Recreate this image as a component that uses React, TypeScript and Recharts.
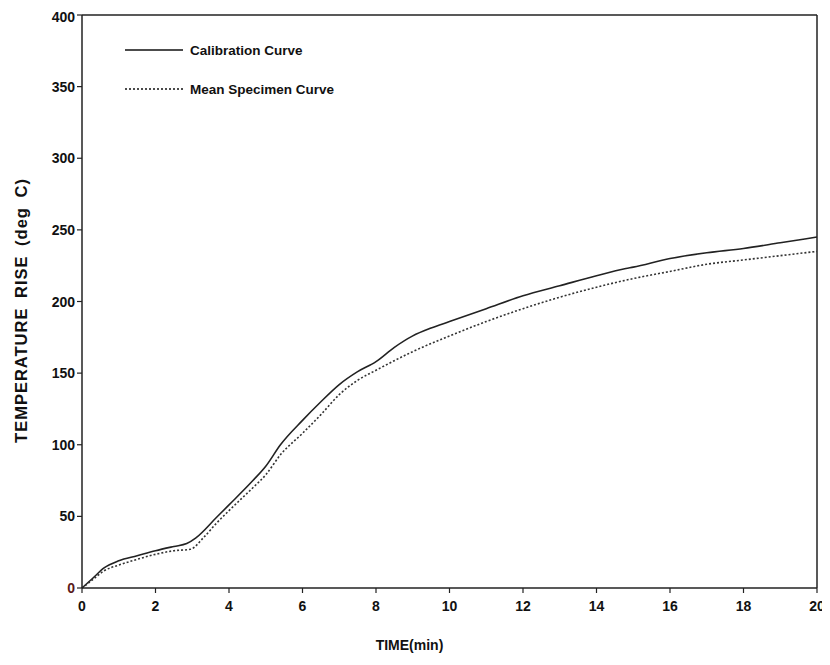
import React from "react";
import { LineChart, Line, XAxis, YAxis, ReferenceLine } from "recharts";

const calTime = [0, 0.3, 0.6, 1, 1.5, 2, 2.5, 2.85, 3.1, 3.65, 4, 4.65, 5, 5.4, 6, 6.5, 7, 7.5, 8, 8.5, 9, 9.5, 10, 11, 12, 13, 14, 14.8, 15, 16, 17, 18, 19, 20];
const calTemp = [0, 7, 14, 19, 22.5, 26, 29, 31, 35, 49, 58, 75, 85, 100, 117, 130, 142, 151, 158, 168, 176, 181.5, 186, 195, 204, 211, 218, 223, 224, 230, 234, 237, 241, 245];

const specTime = [0, 0.3, 0.6, 1, 1.5, 2, 2.5, 2.95, 3.3, 3.65, 4, 4.65, 5, 5.4, 6, 6.5, 7, 7.5, 8, 9, 10, 11, 12, 13, 14, 15, 16, 17, 18, 19, 20];
const specTemp = [0, 6, 12, 16, 20, 23.5, 26, 27, 35, 45, 54, 70, 79, 93, 108, 121, 135, 145, 152, 165, 176, 186, 195, 203, 210, 216, 221, 226, 229, 232, 235];

const xTicks = [0, 2, 4, 6, 8, 10, 12, 14, 16, 18, 20];
const yTicks = [0, 50, 100, 150, 200, 250, 300, 350, 400];

const seriesNames = ["Calibration Curve", "Mean Specimen Curve"];

const calData = calTime.map((t, i) => ({ t, v: calTemp[i] }));
const specData = specTime.map((t, i) => ({ t, v: specTemp[i] }));

const FONT = "'Liberation Sans', Arial, sans-serif";
const NARROW = "'Liberation Sans Narrow', 'Liberation Sans', Arial, sans-serif";

const YTick = (props: any) => {
  const { x, y, payload } = props;
  return (
    <text x={x} y={y} dy={5} textAnchor="end" fontFamily={FONT} fontWeight="bold" fontSize={14}
      fill={payload.value === 0 ? "#5a1a1a" : "#111"}>
      {payload.value}
    </text>
  );
};

const XTick = (props: any) => {
  const { x, y, payload } = props;
  return (
    <text x={x} y={y} dy={16} textAnchor="middle" fontFamily={FONT} fontWeight="bold" fontSize={14} fill="#111">
      {payload.value}
    </text>
  );
};

const LegendBox = () => (
  <svg width={260} height={60} style={{ position: "absolute", left: 117, top: 34 }}>
    <line x1={0} y1={8} x2={58} y2={8} stroke="#111" strokeWidth={1.6} />
    <text x={65} y={13} fontFamily={NARROW} fontWeight="bold" fontSize={13.5} fill="#111">{seriesNames[0]}</text>
    <line x1={0} y1={47} x2={58} y2={47} stroke="#111" strokeWidth={1.6} strokeDasharray="2 2" />
    <text x={65} y={52} fontFamily={NARROW} fontWeight="bold" fontSize={13.5} fill="#111">{seriesNames[1]}</text>
  </svg>
);

export default function App() {
  return (
    <div style={{ width: 822, height: 649, position: "relative", overflow: "hidden" }}>
      <LineChart width={822} height={649} margin={{ top: 7, right: 13, bottom: 0, left: 0 }}>
        <XAxis
          type="number"
          dataKey="t"
          domain={[0, 20]}
          ticks={xTicks}
          allowDuplicatedCategory={false}
          tick={<XTick />}
          tickSize={5}
          axisLine={{ stroke: "#222", strokeWidth: 1.5 }}
          tickLine={{ stroke: "#222", strokeWidth: 1.2 }}
          height={69}
          label={{ value: "TIME(min)", position: "insideBottom", dx: -40, dy: -2, fontFamily: FONT, fontWeight: "bold", fontSize: 14, fill: "#111" }}
        />
        <YAxis
          type="number"
          dataKey="v"
          domain={[0, 400]}
          ticks={yTicks}
          tick={<YTick />}
          tickSize={5}
          width={74}
          axisLine={{ stroke: "#222", strokeWidth: 1.5 }}
          tickLine={{ stroke: "#222", strokeWidth: 1.2 }}
          label={{ value: "TEMPERATURE RISE (deg C)", angle: -90, position: "insideLeft", dx: 8, dy: 9, style: { textAnchor: "middle", letterSpacing: 1, wordSpacing: 4 }, fontFamily: FONT, fontWeight: "bold", fontSize: 16.5, fill: "#111" }}
        />
        <ReferenceLine y={400} stroke="#222" strokeWidth={1.5} />
        <ReferenceLine x={20} stroke="#222" strokeWidth={1.5} />
        <Line data={calData} dataKey="v" name={seriesNames[0]} type="monotone" stroke="#222" strokeWidth={1.6} dot={false} isAnimationActive={false} />
        <Line data={specData} dataKey="v" name={seriesNames[1]} type="monotone" stroke="#333" strokeWidth={1.6} strokeDasharray="2 2" dot={false} isAnimationActive={false} />
      </LineChart>
      <LegendBox />
    </div>
  );
}
